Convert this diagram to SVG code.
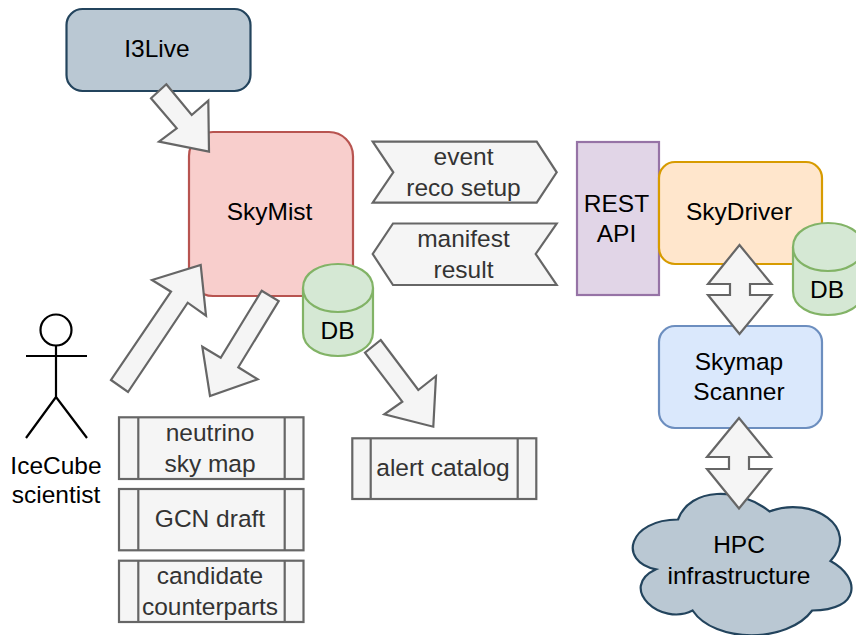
<svg xmlns="http://www.w3.org/2000/svg" width="856" height="635" viewBox="0 0 856 635">
<style>
text{font-family:"Liberation Sans",Arial,sans-serif;font-size:24.500px;text-anchor:middle;fill:#000}
text.grey{fill:#333}
.b{stroke-width:2.200}
.arrow{fill:#f5f5f5;stroke:#666;stroke-width:2.200}
.proc{fill:#f5f5f5;stroke:#666;stroke-width:2.200}
.db{fill:#d5e8d4;stroke:#82b366;stroke-width:2.200}
</style>
<rect width="856" height="635" fill="#fff"/>
<g id="i3live"><rect class="b" x="66.500" y="9" width="184" height="82" rx="16" fill="#bac8d3" stroke="#23445d"/><text x="157" y="57">I3Live</text></g>
<g id="skymist"><rect class="b" x="189" y="132" width="164" height="164" rx="24" fill="#f8cecc" stroke="#b85450"/><text x="269.500" y="220">SkyMist</text></g>
<g id="skymist-db"><path class="db" d="M303 288C303 256 373 256 373 288V332C373 364 303 364 303 332Z"/><path class="db" d="M303 288C303 320 373 320 373 288"/><text x="337.500" y="339">DB</text></g>
<g id="rest-api"><rect x="577" y="142" width="82" height="153" fill="#e1d5e7" stroke="#9673a6" stroke-width="2.200"/><text x="616.500" y="212">REST</text><text x="616.500" y="242">API</text></g>
<g id="skydriver"><rect class="b" x="659" y="162" width="163" height="102" rx="16" fill="#ffe6cc" stroke="#d79b00"/><text x="739" y="220">SkyDriver</text></g>
<g id="skydriver-db"><path class="db" d="M793 247C793 215 863 215 863 247V291C863 323 793 323 793 291Z"/><path class="db" d="M793 247C793 279 863 279 863 247"/><text x="827" y="298">DB</text></g>
<g id="skymap-scanner"><rect class="b" x="659" y="326" width="163" height="102" rx="16" fill="#dae8fc" stroke="#6c8ebf"/><text x="739" y="370">Skymap</text><text x="739" y="400">Scanner</text></g>
<g id="hpc"><path class="b" fill="#bac8d3" stroke="#23445d" d="M678 519.500C629 519.500 617 561 656 569.300C617 587.500 661 627 692.600 610.500C714.600 643.500 787.800 643.500 812.200 610.500C861 610.500 861 577.500 830.500 561C861 528 812.200 495 769.500 511.500C739 486.800 690.200 486.800 678 519.500Z"/><text x="739" y="553">HPC</text><text x="739" y="584">infrastructure</text></g>
<g id="scientist" fill="none" stroke="#000" stroke-width="2.200"><circle cx="56" cy="330" r="15.500"/><path d="M56 346V397M26 356H87M56 397L26 438M56 397L87 438"/><text x="56" y="474" stroke="none" fill="#000">IceCube</text><text x="56" y="503" stroke="none" fill="#000">scientist</text></g>
<g id="event-step"><path class="proc" d="M372.700 141.700H536.700L556.700 172.300L536.700 202.700H372.700L393.300 172.300Z"/><text class="grey" x="463.500" y="165">event</text><text class="grey" x="463.500" y="196">reco setup</text></g>
<g id="manifest-step"><path class="proc" d="M556.700 223.500H393L372.700 254L393 285H556.700L535.700 254Z"/><text class="grey" x="463.500" y="247">manifest</text><text class="grey" x="463.500" y="278">result</text></g>
<g id="sky-map"><rect class="proc" x="119" y="417.300" width="184.500" height="61.700"/><path class="proc" d="M138.300 417.300V479M284.700 417.300V479"/><text class="grey" x="210" y="441">neutrino</text><text class="grey" x="210" y="472">sky map</text></g>
<g id="gcn-draft"><rect class="proc" x="119" y="489" width="184.500" height="61.300"/><path class="proc" d="M138.300 489V550.300M284.700 489V550.300"/><text class="grey" x="210" y="527">GCN draft</text></g>
<g id="counterparts"><rect class="proc" x="119" y="560.700" width="184.500" height="61.300"/><path class="proc" d="M138.300 560.700V622M284.700 560.700V622"/><text class="grey" x="210" y="584">candidate</text><text class="grey" x="210" y="615">counterparts</text></g>
<g id="alert-catalog"><rect class="proc" x="352.300" y="438.300" width="184" height="60.700"/><path class="proc" d="M370.700 438.300V499M517.700 438.300V499"/><text class="grey" x="443" y="476">alert catalog</text></g>
<g id="connectors">
<path class="arrow" d="M111 380L128 392L187.700 302.700L206 315.700L200.700 265L152 280L171 291.700Z"/>
<path class="arrow" d="M261.700 290.700L278.700 301L238.300 367.300L257.700 379.300L210 396L202.300 346.700L220.700 357.700Z"/>
<path class="arrow" d="M380.700 340L418.300 390L436 376L433.300 426.700L384.300 414.300L402.300 401.700L365 352.700Z"/>
<path class="arrow" d="M166.300 84.300L191.700 115L208.300 100.700L209 151.700L159 141.700L176.700 128.300L151 98.300Z"/>
<path class="arrow" d="M739.500 245L771.500 284H750V295H771.500L739.500 334L708 295H730V284H708Z"/>
<path class="arrow" d="M739 418L771 457H749V469H771L739 508.500L707 469H729V457H707Z"/>
</g>
</svg>
